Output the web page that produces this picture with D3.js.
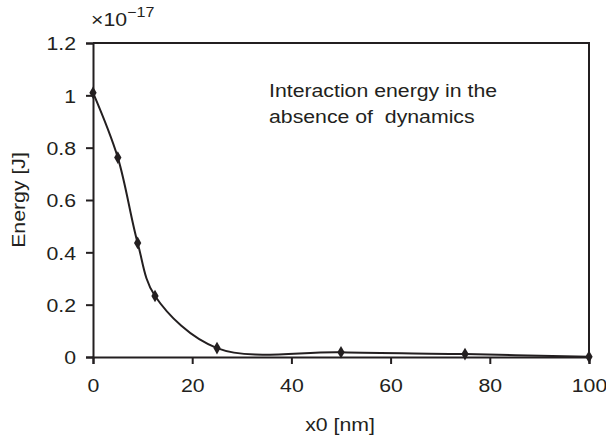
<!DOCTYPE html>
<html>
<head>
<meta charset="utf-8">
<script src="https://cdn.jsdelivr.net/npm/d3@7"></script>
<style>
  body { margin: 0; background: #fff; }
  text { font-family: "Liberation Sans", Arial, sans-serif; fill: #231f20; }
</style>
</head>
<body>
<svg id="chart" width="606" height="438"></svg>
<script>
// data (energy in units of 1e-17 J)
var xs = [0, 5, 9, 12.5, 25, 50, 75, 100];
var energy = [1.01, 0.762, 0.436, 0.233, 0.034, 0.018, 0.011, 0.001];
var xTicks = [0, 20, 40, 60, 80, 100];
var yTicks = [0, 0.2, 0.4, 0.6, 0.8, 1, 1.2];

var svg = d3.select("#chart");
var plotL = 93, plotR = 589, plotT = 43, plotB = 357;
var fs = "18.5px", stretch = 1.15; // the original type runs wide

var x = d3.scaleLinear().domain([0, 100]).range([plotL, plotR]);
var y = d3.scaleLinear().domain([0, 1.2]).range([plotB, plotT]);

var ink = "#231f20";

// frame (top + right)
svg.append("path")
    .attr("d", "M" + plotL + "," + plotT + "H" + plotR + "V" + plotB)
    .style("fill", "none")
    .style("stroke", ink)
    .style("stroke-width", 2);

var xAxis = svg.append("g")
    .attr("transform", "translate(0," + plotB + ")")
    .call(d3.axisBottom(x).tickValues(xTicks).tickSize(7).tickFormat(d3.format("d")));

var yAxis = svg.append("g")
    .attr("transform", "translate(" + plotL + ",0)")
    .call(d3.axisLeft(y).tickValues(yTicks).tickSize(7).tickFormat(function(d){ return String(+d.toFixed(1)); }));

[xAxis, yAxis].forEach(function(g){
    g.select(".domain").style("stroke", ink).style("stroke-width", 2);
    g.selectAll(".tick line").style("stroke", ink).style("stroke-width", 2);
    g.selectAll(".tick text")
        .style("font-family", "Liberation Sans, Arial, sans-serif")
        .style("font-size", fs)
        .style("fill", ink)
        .attr("transform", "scale(" + stretch + ",1)");
});
xAxis.selectAll(".tick text").attr("y", 35).attr("dy", 0);
yAxis.selectAll(".tick text").attr("x", -17 / stretch).attr("dy", "0.36em");

var pts = xs.map(function(d, i){ return [x(d), y(energy[i])]; });

svg.append("path")
    .datum(pts)
    .attr("d", d3.line().curve(d3.curveCatmullRom.alpha(0.5)))
    .style("fill", "none")
    .style("stroke", ink)
    .style("stroke-width", 2);

svg.selectAll(".pt")
    .data(pts)
    .enter().append("path")
    .attr("class", "pt")
    .attr("transform", function(d){ return "translate(" + d[0] + "," + d[1] + ")"; })
    .attr("d", d3.symbol().type(d3.symbolDiamond).size(46))
    .style("fill", ink);

// labels
function label(tx, ty, str, rot, anchor) {
    return svg.append("text")
        .attr("transform", "translate(" + tx + "," + ty + ")" + (rot ? " rotate(" + rot + ")" : "") + " scale(" + stretch + ",1)")
        .attr("text-anchor", anchor || "start")
        .style("font-size", fs)
        .style("white-space", "pre")
        .text(str);
}

label(340, 431, "x0 [nm]", 0, "middle");
label(25, 200, "Energy [J]", -90, "middle");

var mult = label(91, 26, "", 0);
mult.append("tspan").text("\u00d710");
mult.append("tspan").attr("dy", -9).style("font-size", "14px").text("\u221217");

label(269, 97, "Interaction energy in the", 0);
label(269, 123, "absence of  dynamics", 0);
</script>
</body>
</html>
